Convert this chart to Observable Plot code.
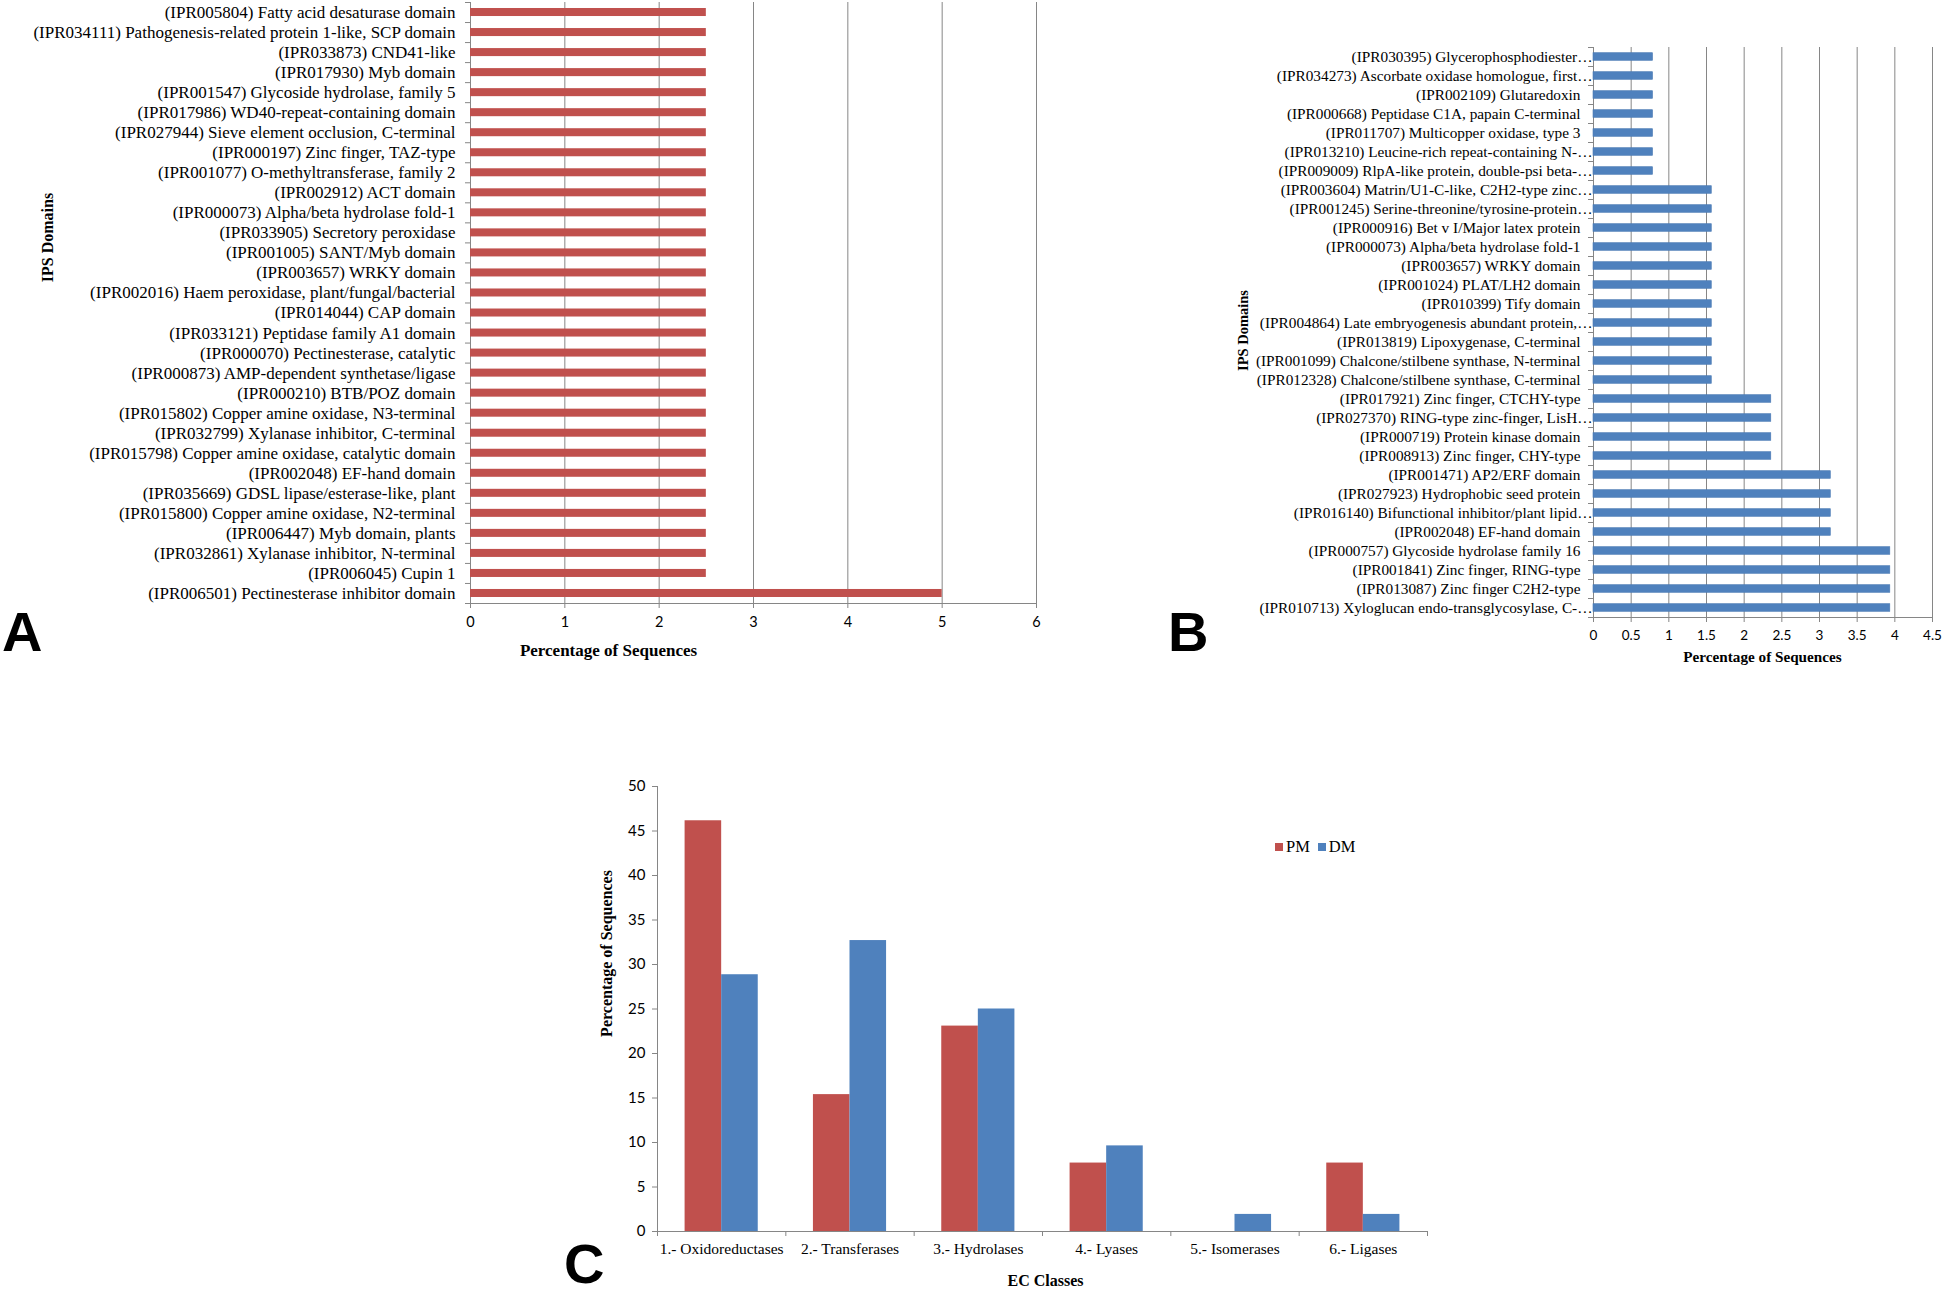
<!DOCTYPE html>
<html>
<head>
<meta charset="utf-8">
<script src="https://cdn.jsdelivr.net/npm/d3@7"></script>
<script src="https://cdn.jsdelivr.net/npm/@observablehq/plot@0.6"></script>
<style>
  body { margin: 0; background: #fff; }
  #wrap { position: relative; width: 1944px; height: 1290px; overflow: hidden; background: #fff; color: #000; }
  .panel { position: absolute; }
  .letter { position: absolute; font-family: "Liberation Sans Narrow", "Liberation Sans", sans-serif; font-weight: bold; font-size: 56px; line-height: 50px; color: #000; }
  .legend { position: absolute; font-family: "Liberation Serif", serif; font-size: 16.5px; line-height: 16px; color: #000; display: flex; align-items: center; }
  .legend .sw { display: inline-block; width: 8px; height: 8px; margin-right: 3px; }
  .legend .item { display: inline-flex; align-items: center; margin-right: 8px; }
</style>
</head>
<body>
<div id="wrap"></div>
<script>
// ---------------- DATA ----------------
const domainsA = [
  "(IPR005804) Fatty acid desaturase domain",
  "(IPR034111) Pathogenesis-related protein 1-like, SCP domain",
  "(IPR033873) CND41-like",
  "(IPR017930) Myb domain",
  "(IPR001547) Glycoside hydrolase, family 5",
  "(IPR017986) WD40-repeat-containing domain",
  "(IPR027944) Sieve element occlusion, C-terminal",
  "(IPR000197) Zinc finger, TAZ-type",
  "(IPR001077) O-methyltransferase, family 2",
  "(IPR002912) ACT domain",
  "(IPR000073) Alpha/beta hydrolase fold-1",
  "(IPR033905) Secretory peroxidase",
  "(IPR001005) SANT/Myb domain",
  "(IPR003657) WRKY domain",
  "(IPR002016) Haem peroxidase, plant/fungal/bacterial",
  "(IPR014044) CAP domain",
  "(IPR033121) Peptidase family A1 domain",
  "(IPR000070) Pectinesterase, catalytic",
  "(IPR000873) AMP-dependent synthetase/ligase",
  "(IPR000210) BTB/POZ domain",
  "(IPR015802) Copper amine oxidase, N3-terminal",
  "(IPR032799) Xylanase inhibitor, C-terminal",
  "(IPR015798) Copper amine oxidase, catalytic domain",
  "(IPR002048) EF-hand domain",
  "(IPR035669) GDSL lipase/esterase-like, plant",
  "(IPR015800) Copper amine oxidase, N2-terminal",
  "(IPR006447) Myb domain, plants",
  "(IPR032861) Xylanase inhibitor, N-terminal",
  "(IPR006045) Cupin 1",
  "(IPR006501) Pectinesterase inhibitor domain"
];
const valuesA = [2.5, 2.5, 2.5, 2.5, 2.5, 2.5, 2.5, 2.5, 2.5, 2.5,
                 2.5, 2.5, 2.5, 2.5, 2.5, 2.5, 2.5, 2.5, 2.5, 2.5,
                 2.5, 2.5, 2.5, 2.5, 2.5, 2.5, 2.5, 2.5, 2.5, 5];
const ticksA = [0, 1, 2, 3, 4, 5, 6];

const domainsB = [
  "(IPR030395) Glycerophosphodiester…",
  "(IPR034273) Ascorbate oxidase homologue, first…",
  "(IPR002109) Glutaredoxin",
  "(IPR000668) Peptidase C1A, papain C-terminal",
  "(IPR011707) Multicopper oxidase, type 3",
  "(IPR013210) Leucine-rich repeat-containing N-…",
  "(IPR009009) RlpA-like protein, double-psi beta-…",
  "(IPR003604) Matrin/U1-C-like, C2H2-type zinc…",
  "(IPR001245) Serine-threonine/tyrosine-protein…",
  "(IPR000916) Bet v I/Major latex protein",
  "(IPR000073) Alpha/beta hydrolase fold-1",
  "(IPR003657) WRKY domain",
  "(IPR001024) PLAT/LH2 domain",
  "(IPR010399) Tify domain",
  "(IPR004864) Late embryogenesis abundant protein,…",
  "(IPR013819) Lipoxygenase, C-terminal",
  "(IPR001099) Chalcone/stilbene synthase, N-terminal",
  "(IPR012328) Chalcone/stilbene synthase, C-terminal",
  "(IPR017921) Zinc finger, CTCHY-type",
  "(IPR027370) RING-type zinc-finger, LisH…",
  "(IPR000719) Protein kinase domain",
  "(IPR008913) Zinc finger, CHY-type",
  "(IPR001471) AP2/ERF domain",
  "(IPR027923) Hydrophobic seed protein",
  "(IPR016140) Bifunctional inhibitor/plant lipid…",
  "(IPR002048) EF-hand domain",
  "(IPR000757) Glycoside hydrolase family 16",
  "(IPR001841) Zinc finger, RING-type",
  "(IPR013087) Zinc finger C2H2-type",
  "(IPR010713) Xyloglucan endo-transglycosylase, C-…"
];
const valuesB = [0.79, 0.79, 0.79, 0.79, 0.79, 0.79, 0.79,
                 1.57, 1.57, 1.57, 1.57, 1.57, 1.57, 1.57, 1.57, 1.57, 1.57, 1.57,
                 2.36, 2.36, 2.36, 2.36,
                 3.15, 3.15, 3.15, 3.15,
                 3.94, 3.94, 3.94, 3.94];
const ticksB = [0, 0.5, 1, 1.5, 2, 2.5, 3, 3.5, 4, 4.5];

const ecClasses = ["1.- Oxidoreductases", "2.- Transferases", "3.- Hydrolases", "4.- Lyases", "5.- Isomerases", "6.- Ligases"];
const seriesNames = ["PM", "DM"];
const pmValues = [46.15, 15.38, 23.08, 7.69, 0, 7.69];
const dmValues = [28.85, 32.69, 25.0, 9.62, 1.92, 1.92];
const ticksC = [0, 5, 10, 15, 20, 25, 30, 35, 40, 45, 50];

// ---------------- STYLE ----------------
const RED = "#C0504D", BLUE = "#4F81BD", GRID = "#868686";
const SERIF = "Liberation Serif, Times New Roman, serif";
const SANS = "Lato, Carlito, Liberation Sans, sans-serif";
const wrap = document.getElementById("wrap");

function place(node, left, top) {
  const d = document.createElement("div");
  d.className = "panel";
  d.style.left = left + "px";
  d.style.top = top + "px";
  d.appendChild(node);
  wrap.appendChild(d);
  return d;
}
function letter(txt, left, top) {
  const d = document.createElement("div");
  d.className = "letter";
  d.textContent = txt;
  d.style.left = left + "px";
  d.style.top = top + "px";
  wrap.appendChild(d);
}

// ---------------- PANEL A ----------------
{
  const W = 1060, H = 670, ml = 470, mr = 24, mt = 2, mb = 67;
  const step = (H - mt - mb) / domainsA.length;
  const pxPerUnit = (W - ml - mr) / (ticksA[ticksA.length - 1] - ticksA[0]);
  const tickLen = 5 / pxPerUnit;
  const dataA = domainsA.map((d, i) => ({domain: d, value: valuesA[i]}));
  const chart = Plot.plot({
    width: W, height: H, marginLeft: ml, marginRight: mr, marginTop: mt, marginBottom: mb,
    style: {background: "transparent", overflow: "visible", color: "#000"},
    x: {domain: [ticksA[0], ticksA[ticksA.length - 1]]},
    y: {domain: domainsA, paddingInner: 0.6, paddingOuter: 0.3, round: false, axis: null},
    marks: [
      Plot.ruleX(ticksA, {stroke: GRID, strokeWidth: 1}),
      Plot.ruleY([domainsA[domainsA.length - 1]], {x1: ticksA[0], x2: ticksA[ticksA.length - 1], dy: step / 2, stroke: GRID}),
      Plot.ruleY(domainsA, {x1: -tickLen, x2: 0, dy: step / 2, stroke: GRID}),
      Plot.ruleY([domainsA[0]], {x1: -tickLen, x2: 0, dy: -step / 2, stroke: GRID}),
      Plot.barX(dataA, {x: "value", y: "domain", fill: RED}),
      Plot.text(domainsA, {y: d => d, frameAnchor: "left", textAnchor: "end", dx: -15, fontSize: 17, fontFamily: SERIF, fill: "#000"}),
      Plot.axisX({ticks: ticksA, tickFormat: d => String(d), tickSize: 5, tickPadding: 8, stroke: GRID, fill: "#000", fontSize: 14.5, fontFamily: SANS, label: null}),
      Plot.text(["IPS Domains"], {frameAnchor: "top-left", dx: -423, dy: 235, rotate: -90, textAnchor: "middle", lineAnchor: "middle", fontWeight: "bold", fontSize: 16, fontFamily: SERIF, fill: "#000"}),
      Plot.text(["Percentage of Sequences"], {frameAnchor: "bottom-left", dx: 138, dy: 47, textAnchor: "middle", lineAnchor: "middle", fontWeight: "bold", fontSize: 17, fontFamily: SERIF, fill: "#000"})
    ]
  });
  place(chart, 0, 0);
}

// ---------------- PANEL B ----------------
{
  const W = 794, H = 680, ml = 443, mr = 12, mt = 47, mb = 63;
  const step = (H - mt - mb) / domainsB.length;
  const pxPerUnit = (W - ml - mr) / (ticksB[ticksB.length - 1] - ticksB[0]);
  const tickLen = 5 / pxPerUnit;
  const dataB = domainsB.map((d, i) => ({domain: d, value: valuesB[i]}));
  const full = domainsB.filter(d => !d.endsWith("…"));
  const cut = domainsB.filter(d => d.endsWith("…"));
  const chart = Plot.plot({
    width: W, height: H, marginLeft: ml, marginRight: mr, marginTop: mt, marginBottom: mb,
    style: {background: "transparent", overflow: "visible", color: "#000"},
    x: {domain: [ticksB[0], ticksB[ticksB.length - 1]]},
    y: {domain: domainsB, paddingInner: 0.6, paddingOuter: 0.3, round: false, axis: null},
    marks: [
      Plot.ruleX(ticksB, {stroke: GRID, strokeWidth: 1}),
      Plot.ruleY([domainsB[domainsB.length - 1]], {x1: ticksB[0], x2: ticksB[ticksB.length - 1], dy: step / 2, stroke: GRID}),
      Plot.ruleY(domainsB, {x1: -tickLen, x2: 0, dy: step / 2, stroke: GRID}),
      Plot.ruleY([domainsB[0]], {x1: -tickLen, x2: 0, dy: -step / 2, stroke: GRID}),
      Plot.barX(dataB, {x: "value", y: "domain", fill: BLUE, stroke: "#4A7AB4", strokeWidth: 0.6}),
      Plot.text(full, {y: d => d, frameAnchor: "left", textAnchor: "end", dx: -13, fontSize: 15.3, fontFamily: SERIF, fill: "#000"}),
      Plot.text(cut, {y: d => d, frameAnchor: "left", textAnchor: "end", dx: -1, fontSize: 15.3, fontFamily: SERIF, fill: "#000"}),
      Plot.axisX({ticks: ticksB, tickFormat: d => String(d), tickSize: 5, tickPadding: 8, stroke: GRID, fill: "#000", fontSize: 13.5, fontFamily: SANS, label: null}),
      Plot.text(["IPS Domains"], {frameAnchor: "top-left", dx: -350, dy: 283, rotate: -90, textAnchor: "middle", lineAnchor: "middle", fontWeight: "bold", fontSize: 14.5, fontFamily: SERIF, fill: "#000"}),
      Plot.text(["Percentage of Sequences"], {frameAnchor: "bottom-left", dx: 169, dy: 40, textAnchor: "middle", lineAnchor: "middle", fontWeight: "bold", fontSize: 15.2, fontFamily: SERIF, fill: "#000"})
    ]
  });
  place(chart, 1150, 0);
}

// ---------------- PANEL C ----------------
{
  const W = 900, H = 520, ml = 117, mr = 13, mt = 16, mb = 59;
  const step = (W - ml - mr) / ecClasses.length;
  const barW = step * 0.285;
  const outer = step / 2 - barW;
  const pxPerUnitY = (H - mt - mb) / (ticksC[ticksC.length - 1] - ticksC[0]);
  const tickLen = 5 / pxPerUnitY;
  const pm = ecClasses.map((c, i) => ({cls: c, series: seriesNames[0], value: pmValues[i]}));
  const dm = ecClasses.map((c, i) => ({cls: c, series: seriesNames[1], value: dmValues[i]}));
  const chart = Plot.plot({
    width: W, height: H, marginLeft: ml, marginRight: mr, marginTop: mt, marginBottom: mb,
    style: {background: "transparent", overflow: "visible", color: "#000"},
    x: {domain: ecClasses, padding: 0, round: false},
    y: {domain: [ticksC[0], ticksC[ticksC.length - 1]]},
    marks: [
      Plot.barY(pm, {x: "cls", y: "value", fill: RED, insetLeft: outer, insetRight: step / 2}),
      Plot.barY(dm, {x: "cls", y: "value", fill: BLUE, insetLeft: step / 2, insetRight: outer}),
      Plot.ruleY([ticksC[0]], {stroke: GRID}),
      Plot.ruleX([ecClasses[0]], {dx: -step / 2, y1: ticksC[0], y2: ticksC[ticksC.length - 1], stroke: GRID}),
      Plot.ruleX(ecClasses, {dx: -step / 2, y1: -tickLen, y2: 0, stroke: GRID}),
      Plot.ruleX([ecClasses[ecClasses.length - 1]], {dx: step / 2, y1: -tickLen, y2: 0, stroke: GRID}),
      Plot.axisY({ticks: ticksC, tickSize: 5, tickPadding: 7, stroke: GRID, fill: "#000", fontSize: 15, fontFamily: SANS, label: null}),
      Plot.axisX({tickSize: 0, tickPadding: 11, fill: "#000", fontSize: 15.5, fontFamily: SERIF, label: null}),
      Plot.text(["Percentage of Sequences"], {frameAnchor: "top-left", dx: -51, dy: 167, rotate: -90, textAnchor: "middle", lineAnchor: "middle", fontWeight: "bold", fontSize: 16, fontFamily: SERIF, fill: "#000"}),
      Plot.text(["EC Classes"], {frameAnchor: "bottom-left", dx: 388, dy: 49, textAnchor: "middle", lineAnchor: "middle", fontWeight: "bold", fontSize: 16, fontFamily: SERIF, fill: "#000"})
    ]
  });
  place(chart, 540, 770);

  const lg = document.createElement("div");
  lg.className = "legend";
  lg.style.left = "1275px";
  lg.style.top = "839px";
  [[seriesNames[0], RED], [seriesNames[1], BLUE]].forEach(([n, c]) => {
    const it = document.createElement("span");
    it.className = "item";
    const sw = document.createElement("span");
    sw.className = "sw";
    sw.style.background = c;
    it.appendChild(sw);
    it.appendChild(document.createTextNode(n));
    lg.appendChild(it);
  });
  wrap.appendChild(lg);
}

letter("A", 2, 607);
letter("B", 1168, 607);
letter("C", 564, 1239);
</script>
</body>
</html>
